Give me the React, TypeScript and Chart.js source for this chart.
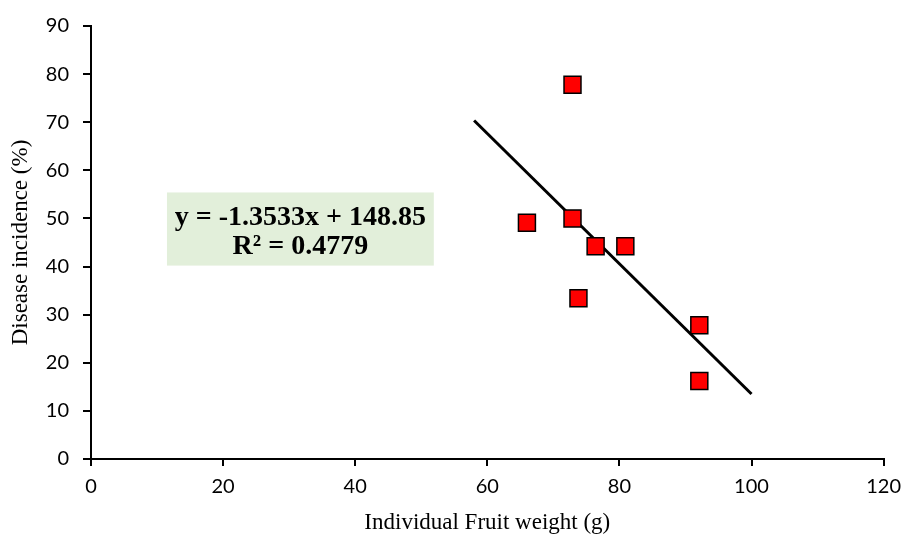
import React, { useEffect, useRef } from "react";
import { Chart, registerables } from "chart.js";

Chart.register(...registerables);

const fruitWeight = [66.0, 72.9, 72.9, 73.8, 76.4, 80.9, 92.1, 92.1];
const diseaseIncidence = [49.1, 77.8, 50.0, 33.4, 44.2, 44.2, 27.8, 16.2];
const trendSlope = -1.3533;
const trendIntercept = 148.85;
const trendRange = [58, 100];
const equationLines = ["y = -1.3533x + 148.85", "R² = 0.4779"];
// box extent in data units
const boxX = [11.5, 51.9];
const boxY = [40.2, 55.4];

const equationPlugin = {
  id: "equationBox",
  afterDatasetsDraw(chart: any) {
    const { ctx, scales } = chart;
    const xs = scales.x;
    const ys = scales.y;
    const l = xs.getPixelForValue(boxX[0]);
    const r = xs.getPixelForValue(boxX[1]);
    const t = ys.getPixelForValue(boxY[1]);
    const b = ys.getPixelForValue(boxY[0]);
    ctx.save();
    ctx.fillStyle = "#e2efda";
    ctx.fillRect(l, t, r - l, b - t);
    ctx.fillStyle = "#000";
    ctx.font = "bold 28px 'Liberation Serif'";
    ctx.textAlign = "center";
    ctx.textBaseline = "middle";
    const cx = (l + r) / 2;
    const cy = (t + b) / 2;
    ctx.fillText(equationLines[0], cx, cy - 11);
    ctx.fillText(equationLines[1], cx, cy + 18);
    ctx.restore();
  },
};

export default function App() {
  const ref = useRef<HTMLCanvasElement>(null);
  useEffect(() => {
    document.body.style.margin = "0";
    const points = fruitWeight.map((x, i) => ({ x, y: diseaseIncidence[i] }));
    const trend = trendRange.map((x) => ({ x, y: trendSlope * x + trendIntercept }));
    const chart = new Chart(ref.current!, {
      type: "scatter",
      data: {
        datasets: [
          {
            type: "line",
            data: trend,
            borderColor: "#000",
            borderWidth: 3,
            pointRadius: 0,
            fill: false,
            order: 2,
          } as any,
          {
            data: points,
            pointStyle: "rect",
            pointRadius: 12,
            pointBackgroundColor: "#ff0000",
            pointBorderColor: "#000",
            pointBorderWidth: 1.5,
            order: 1,
          },
        ],
      },
      options: {
        animation: false,
        responsive: false,
        layout: { padding: { left: 0, right: 21, top: 25, bottom: 0 } },
        plugins: { legend: { display: false }, tooltip: { enabled: false } },
        scales: {
          x: {
            type: "linear",
            min: 0,
            max: 120,
            ticks: {
              stepSize: 20,
              color: "#000",
              padding: 9,
              font: { family: "Lato", size: 20 },
            },
            grid: {
              drawOnChartArea: false,
              drawTicks: true,
              tickLength: 7,
              color: "#000",
              lineWidth: 2,
            },
            border: { color: "#000", width: 2 },
            title: {
              display: true,
              text: "Individual Fruit weight (g)",
              color: "#000",
              font: { family: "Liberation Serif", size: 23 },
              padding: { top: 0, bottom: 4 },
            },
            afterFit(scale: any) {
              scale.height = 82;
            },
          },
          y: {
            type: "linear",
            min: 0,
            max: 90,
            ticks: {
              stepSize: 10,
              color: "#000",
              padding: 14,
              font: { family: "Lato", size: 20 },
            },
            grid: {
              drawOnChartArea: false,
              drawTicks: true,
              tickLength: 8,
              color: "#000",
              lineWidth: 2,
            },
            border: { color: "#000", width: 2 },
            title: {
              display: true,
              text: "Disease incidence (%)",
              color: "#000",
              font: { family: "Liberation Serif", size: 23 },
              padding: { top: 7, bottom: 0 },
            },
            afterFit(scale: any) {
              scale.width = 91;
            },
          },
        },
      },
      plugins: [equationPlugin],
    });
    return () => chart.destroy();
  }, []);
  return (
    <div style={{ width: 910, height: 541, background: "#fff" }}>
      <canvas ref={ref} width={910} height={541} style={{ display: "block" }} />
    </div>
  );
}
